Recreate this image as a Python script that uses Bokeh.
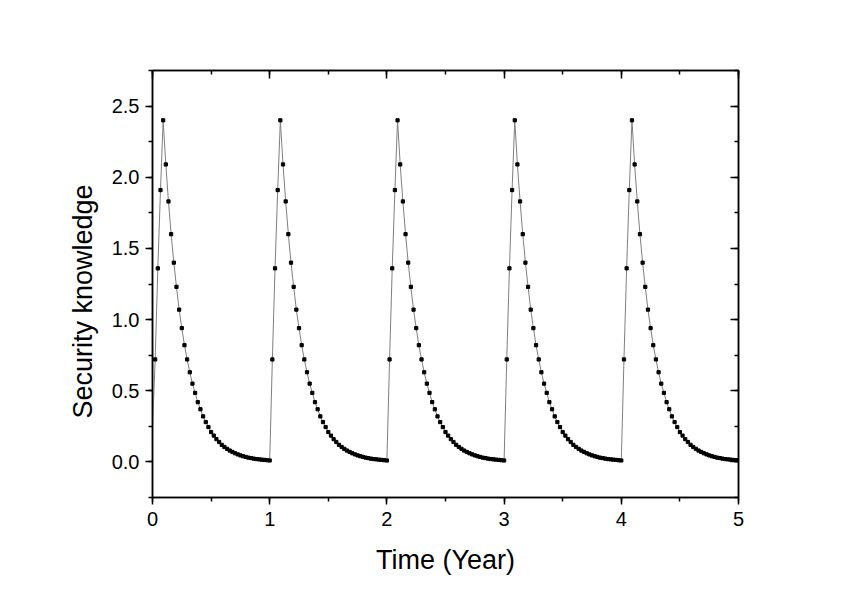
from bokeh.plotting import figure
from bokeh.models import Range1d, LinearAxis, SingleIntervalTicker, NumeralTickFormatter, Title
from bokeh.embed import file_html
from bokeh.resources import INLINE

# one cycle of readings (step = 1/44 year)
cycle_values = [0.01, 0.72, 1.36, 1.91, 2.40, 2.09, 1.83, 1.60, 1.40, 1.23, 1.07,
                0.94, 0.82, 0.72, 0.63, 0.55, 0.485, 0.42, 0.37, 0.32, 0.28,
                0.245, 0.21, 0.185, 0.16, 0.14, 0.12, 0.105, 0.092, 0.08, 0.07,
                0.061, 0.053, 0.046, 0.04, 0.035, 0.03, 0.027, 0.023, 0.02,
                0.018, 0.016, 0.014, 0.012]
first_value = 0.24
end_value = 0.011
n_cycles = 5
step = 1.0 / 44

times = []
knowledge = []
for c in range(n_cycles):
    for i, v in enumerate(cycle_values):
        times.append(c + i * step)
        knowledge.append(first_value if (c == 0 and i == 0) else v)
times.append(float(n_cycles))
knowledge.append(end_value)

FONT = "Liberation Sans"

p = figure(width=850, height=589, output_backend="svg", toolbar_location=None,
           x_range=Range1d(0, 5), y_range=Range1d(-0.25, 2.75),
           min_border_left=152, min_border_right=112, min_border_top=70,
           min_border_bottom=92)
p.xgrid.visible = False
p.ygrid.visible = False
p.outline_line_color = "black"
p.outline_line_width = 1.5
p.background_fill_color = "white"
p.border_fill_color = "white"

p.line(times, knowledge, line_color="#7f7f7f", line_width=1)
p.scatter(times[1:], knowledge[1:], marker="square", size=3.2, fill_color="black",
          line_color="black")

xt = SingleIntervalTicker(interval=1, num_minor_ticks=2)
yt = SingleIntervalTicker(interval=0.5, num_minor_ticks=2)

xa = p.xaxis[0]
xa.ticker = xt
xa.axis_label = "Time (Year)"
ya = p.yaxis[0]
ya.ticker = yt
ya.formatter = NumeralTickFormatter(format="0.0")

for ax in (xa, ya):
    ax.axis_line_width = 1.5
    ax.major_tick_line_width = 1.5
    ax.minor_tick_line_width = 1.5
    ax.major_tick_out = 7
    ax.major_tick_in = 0
    ax.minor_tick_out = 4
    ax.minor_tick_in = 0
    ax.major_label_text_font = FONT
    ax.major_label_text_font_size = "20px"
    ax.major_label_text_color = "black"
    ax.axis_label_text_font = FONT
    ax.axis_label_text_font_size = "27px"
    ax.axis_label_text_font_style = "normal"
    ax.axis_label_text_color = "black"

xa.major_label_standoff = 7
xa.axis_label_standoff = 16
ya.major_label_standoff = 6

# y-axis title, starting below the frame centre as in the reference
ytitle = Title(text="Security knowledge", align="left", offset=79,
               vertical_align="middle", standoff=20,
               text_font=FONT, text_font_size="27px", text_color="black",
               text_font_style="normal")
p.add_layout(ytitle, "left")

top = LinearAxis(ticker=SingleIntervalTicker(interval=1, num_minor_ticks=2))
right = LinearAxis(ticker=SingleIntervalTicker(interval=0.5, num_minor_ticks=2))
for ax in (top, right):
    ax.axis_line_width = 1.5
    ax.major_tick_line_width = 1.5
    ax.minor_tick_line_width = 1.5
    ax.major_tick_out = 0
    ax.major_tick_in = 8
    ax.minor_tick_out = 0
    ax.minor_tick_in = 4
    ax.major_label_text_font_size = "0px"
    ax.major_label_text_color = None
p.add_layout(top, "above")
p.add_layout(right, "right")

open("out.html", "w").write(file_html(p, INLINE))
